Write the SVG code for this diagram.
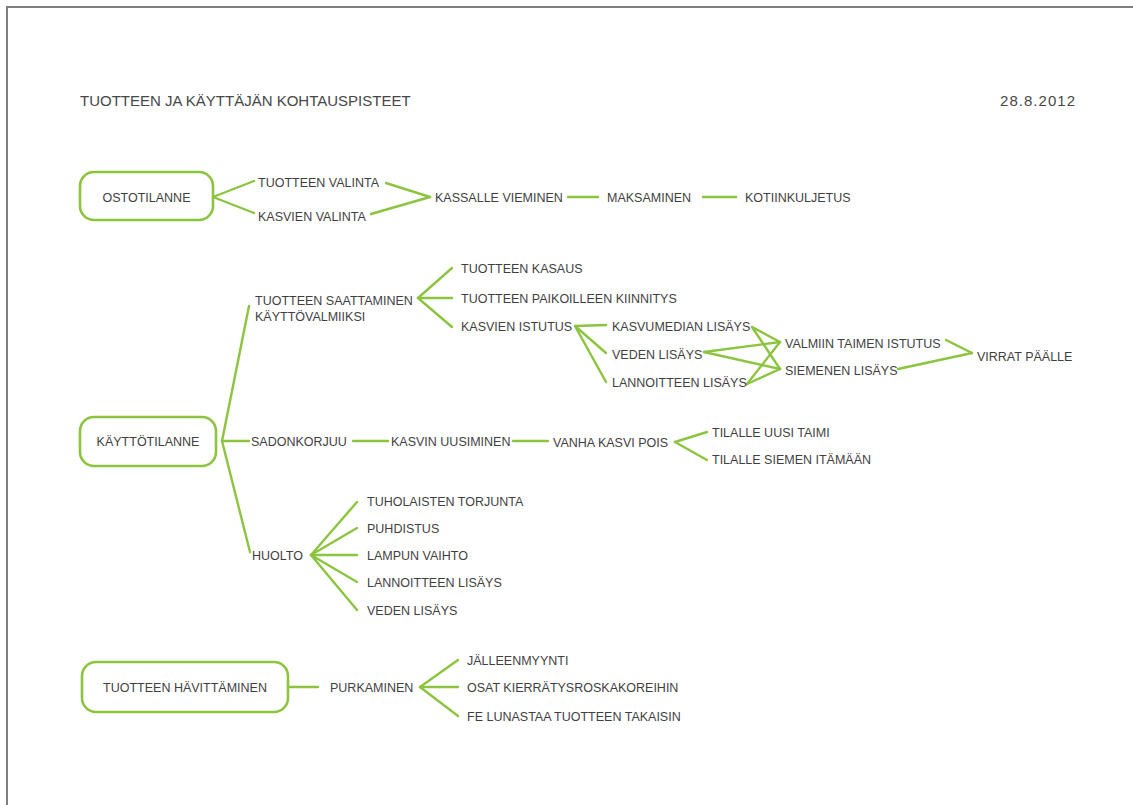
<svg xmlns="http://www.w3.org/2000/svg" width="1133" height="805" viewBox="0 0 1133 805">
  <style>
    .lbl { font-family: "Liberation Sans", Arial, sans-serif; font-size: 12.5px; fill: #3f3f3f; }
    .head { font-family: "Liberation Sans", Arial, sans-serif; font-size: 15px; fill: #474747; }
    .box { fill: #ffffff; stroke: #8cc43f; stroke-width: 2.6; }
    .mid { text-anchor: middle; }
    #connectors path { fill: none; stroke: #8cc43f; stroke-width: 2.4; stroke-linecap: round; stroke-linejoin: round; }
  </style>

  <rect x="0" y="0" width="1133" height="805" fill="#ffffff"/>
  <!-- page frame -->
  <path d="M7,805 V7 H1133" fill="none" stroke="#7f7f7f" stroke-width="2"/>

  <g id="title"><text class="head" x="80" y="106">TUOTTEEN JA KÄYTTÄJÄN KOHTAUSPISTEET</text></g>
  <g id="date"><text class="head" x="1000" y="106" textLength="75">28.8.2012</text></g>

  <g id="connectors">
    <!-- purchase -->
    <path d="M213,197 L254,181"/>
    <path d="M213,197 L254,213"/>
    <path d="M386,183 L430,197"/>
    <path d="M371,214 L430,197"/>
    <path d="M568,197 H598"/>
    <path d="M703,197 H736"/>
    <!-- use -->
    <path d="M222,441 L249,306"/>
    <path d="M222,441 H249"/>
    <path d="M222,441 L250,552"/>
    <path d="M418,298 L452,268"/>
    <path d="M418,298 H452"/>
    <path d="M418,298 L452,327"/>
    <path d="M575,326 L606,325"/>
    <path d="M575,326 L606,353"/>
    <path d="M575,326 L606,382"/>
    <path d="M752,327 L780,342"/>
    <path d="M752,327 L780,369"/>
    <path d="M704,352 L780,342"/>
    <path d="M704,352 L780,369"/>
    <path d="M747,384 L780,342"/>
    <path d="M747,384 L780,369"/>
    <path d="M946,340 L972,353"/>
    <path d="M898,369 L972,353"/>
    <path d="M353,441 H388"/>
    <path d="M513,441 H548"/>
    <path d="M675,442 L707,432"/>
    <path d="M675,442 L707,460"/>
    <path d="M311,555 L357,502"/>
    <path d="M311,555 L357,528"/>
    <path d="M311,555 H357"/>
    <path d="M311,555 L357,582"/>
    <path d="M311,555 L357,610"/>
    <!-- disposal -->
    <path d="M290,687 H318"/>
    <path d="M420,687 L458,660"/>
    <path d="M420,687 H458"/>
    <path d="M420,687 L458,716"/>
  </g>

  <!-- purchase situation -->
  <g id="ostotilanne">
    <rect class="box" x="80" y="172" width="133" height="48" rx="14"/>
    <text class="lbl mid" x="146.5" y="201.5">OSTOTILANNE</text>
  </g>
  <g id="tuotteen-valinta"><text class="lbl" x="258" y="187">TUOTTEEN VALINTA</text></g>
  <g id="kasvien-valinta"><text class="lbl" x="258" y="221">KASVIEN VALINTA</text></g>
  <g id="kassalle-vieminen"><text class="lbl" x="435" y="202">KASSALLE VIEMINEN</text></g>
  <g id="maksaminen"><text class="lbl" x="607" y="202">MAKSAMINEN</text></g>
  <g id="kotiinkuljetus"><text class="lbl" x="745" y="202">KOTIINKULJETUS</text></g>

  <!-- use situation -->
  <g id="kayttotilanne">
    <rect class="box" x="80" y="417" width="136" height="49" rx="14"/>
    <text class="lbl mid" x="148" y="446">KÄYTTÖTILANNE</text>
  </g>
  <g id="saattaminen">
    <text class="lbl" x="255" y="305">TUOTTEEN SAATTAMINEN</text>
    <text class="lbl" x="255" y="321">KÄYTTÖVALMIIKSI</text>
  </g>
  <g id="kasaus"><text class="lbl" x="461" y="273">TUOTTEEN KASAUS</text></g>
  <g id="kiinnitys"><text class="lbl" x="461" y="303">TUOTTEEN PAIKOILLEEN KIINNITYS</text></g>
  <g id="kasvien-istutus"><text class="lbl" x="461" y="331">KASVIEN ISTUTUS</text></g>
  <g id="kasvumedian-lisays"><text class="lbl" x="612" y="331">KASVUMEDIAN LISÄYS</text></g>
  <g id="veden-lisays-1"><text class="lbl" x="612" y="359">VEDEN LISÄYS</text></g>
  <g id="lannoitteen-lisays-1"><text class="lbl" x="612" y="387">LANNOITTEEN LISÄYS</text></g>
  <g id="valmiin-taimen-istutus"><text class="lbl" x="785" y="348">VALMIIN TAIMEN ISTUTUS</text></g>
  <g id="siemenen-lisays"><text class="lbl" x="785" y="375">SIEMENEN LISÄYS</text></g>
  <g id="virrat-paalle"><text class="lbl" x="977" y="361">VIRRAT PÄÄLLE</text></g>

  <g id="sadonkorjuu"><text class="lbl" x="251" y="446">SADONKORJUU</text></g>
  <g id="kasvin-uusiminen"><text class="lbl" x="391" y="446">KASVIN UUSIMINEN</text></g>
  <g id="vanha-kasvi-pois"><text class="lbl" x="553" y="447">VANHA KASVI POIS</text></g>
  <g id="uusi-taimi"><text class="lbl" x="712" y="437">TILALLE UUSI TAIMI</text></g>
  <g id="siemen-itamaan"><text class="lbl" x="712" y="464">TILALLE SIEMEN ITÄMÄÄN</text></g>

  <g id="huolto"><text class="lbl" x="252" y="560">HUOLTO</text></g>
  <g id="torjunta"><text class="lbl" x="367" y="506">TUHOLAISTEN TORJUNTA</text></g>
  <g id="puhdistus"><text class="lbl" x="367" y="533">PUHDISTUS</text></g>
  <g id="lampun-vaihto"><text class="lbl" x="367" y="560">LAMPUN VAIHTO</text></g>
  <g id="lannoitteen-lisays-2"><text class="lbl" x="367" y="587">LANNOITTEEN LISÄYS</text></g>
  <g id="veden-lisays-2"><text class="lbl" x="367" y="615">VEDEN LISÄYS</text></g>

  <!-- disposal -->
  <g id="havittaminen">
    <rect class="box" x="82" y="662" width="206" height="50" rx="14"/>
    <text class="lbl mid" x="185" y="692">TUOTTEEN HÄVITTÄMINEN</text>
  </g>
  <g id="purkaminen"><text class="lbl" x="330" y="692">PURKAMINEN</text></g>
  <g id="jalleenmyynti"><text class="lbl" x="467" y="665">JÄLLEENMYYNTI</text></g>
  <g id="kierratys"><text class="lbl" x="467" y="692">OSAT KIERRÄTYSROSKAKOREIHIN</text></g>
  <g id="lunastus"><text class="lbl" x="467" y="721">FE LUNASTAA TUOTTEEN TAKAISIN</text></g>
</svg>
